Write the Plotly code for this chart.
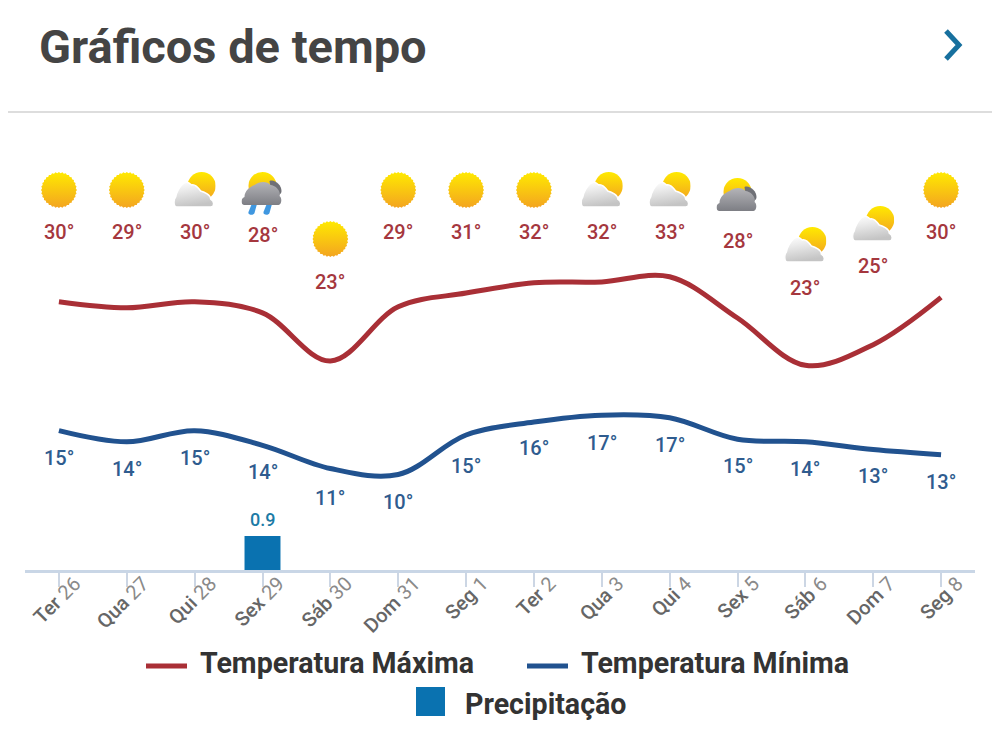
import base64
import math
import plotly.graph_objects as go

# --- DATA ---
dias = ["Ter", "Qua", "Qui", "Sex", "Sáb", "Dom", "Seg", "Ter", "Qua", "Qui", "Sex", "Sáb", "Dom", "Seg"]
datas = [26, 27, 28, 29, 30, 31, 1, 2, 3, 4, 5, 6, 7, 8]
temp_max = [29.8, 29.1, 29.8, 28.5, 22.9, 29.2, 30.8, 32.0, 32.1, 32.7, 27.9, 22.4, 24.8, 30.3]
temp_min = [14.8, 13.5, 14.8, 13.1, 10.4, 9.7, 14.3, 15.8, 16.6, 16.3, 13.8, 13.5, 12.6, 12.0]
rotulo_max = [30, 29, 30, 28, 23, 29, 31, 32, 32, 33, 28, 23, 25, 30]
rotulo_min = [15, 14, 15, 14, 11, 10, 15, 16, 17, 17, 15, 14, 13, 13]
precipitacao = [0, 0, 0, 0.9, 0, 0, 0, 0, 0, 0, 0, 0, 0, 0]
icones = ["sol", "sol", "nuvem", "chuva", "sol", "sol", "sol", "sol", "nuvem", "nuvem",
          "encoberto", "nuvem", "nuvem", "sol"]

# --- POSICOES (pixels da pagina) ---
W, H = 1000, 744
OFF = 8  # margem do body na pagina gerada
ESQ, DIR, TOPO, BASE = 25, 975, 148, 570
y_rot_max = [232, 232, 232, 235, 282, 232, 232, 232, 232, 232, 241, 288, 266, 232]
y_rot_min = [458, 469, 458, 472, 498, 502, 466, 448, 443, 445, 466, 469, 476, 482]
y_icone = [190, 190, 190, 194, 239, 190, 190, 190, 190, 190, 195, 245, 224, 190]

VERMELHO = "#a92f36"
AZUL = "#21528f"
AZUL_BARRA = "#0a72b0"
SLOT = (DIR - ESQ) / 14


def py(y):
    return (BASE - y) / (BASE - TOPO)


def px(x):
    return (x - ESQ) / (DIR - ESQ)


# --- ICONES em SVG ---
def svg_uri(svg):
    return "data:image/svg+xml;base64," + base64.b64encode(svg.encode()).decode()


GRADS = """<defs>
<linearGradient id="s" x1="0" y1="0" x2="0" y2="1"><stop offset="0" stop-color="#ffea00"/><stop offset="1" stop-color="#f3a421"/></linearGradient>
<linearGradient id="c" x1="0" y1="0" x2="0.25" y2="1"><stop offset="0" stop-color="#ffffff"/><stop offset="0.35" stop-color="#ececec"/><stop offset="1" stop-color="#c4c4c4"/></linearGradient>
<linearGradient id="d" x1="0" y1="0" x2="0" y2="1"><stop offset="0" stop-color="#b4b4b8"/><stop offset="1" stop-color="#7d7e84"/></linearGradient>
</defs>"""


def icone_sol():
    pts = []
    for k in range(64):
        r = 18 if k % 2 == 0 else 16.9
        a = 2 * math.pi * k / 64
        pts.append(f"{18 + r * math.cos(a):.2f},{18 + r * math.sin(a):.2f}")
    return svg_uri(f'<svg xmlns="http://www.w3.org/2000/svg" width="72" height="72" viewBox="0 0 36 36">{GRADS}'
                   f'<polygon points="{" ".join(pts)}" fill="url(#s)"/></svg>')


def icone_nuvem():
    nuvem = "M3,35 C0,35 -0.5,28 2,25 C3,20 6,15 9,12 C12,9 15,10 18,13 C21,12 24,15 27,19 C31,20 37,23 37,27 C41,29 41,35 37,35 Z"
    return svg_uri(f'<svg xmlns="http://www.w3.org/2000/svg" width="84" height="72" viewBox="0 0 42 36">{GRADS}'
                   f'<circle cx="28" cy="14" r="14" fill="url(#s)"/>'
                   f'<path d="{nuvem}" fill="url(#c)" stroke="#ffffff" stroke-width="1.5"/></svg>')


def icone_escuro(pingos):
    extra = ""
    if pingos:
        extra = ('<path d="M11,30 L16,30 L13,41 C12,44 6,43 7,40 Z" fill="#3f97e0"/>'
                 '<path d="M26,30 L31,30 L28,41 C27,44 21,43 22,40 Z" fill="#3f97e0"/>')
    corpo = "M3,33 C-1,33 -1,26 3,25 C3,19 8,15 13,13 C18,9 26,9 29,13 C34,13 40,20 38,24 C41,26 40,33 37,33 Z"
    alto = 44 if pingos else 34
    return svg_uri(f'<svg xmlns="http://www.w3.org/2000/svg" width="84" height="{alto * 2}" viewBox="0 0 42 {alto}">{GRADS}{extra}'
                   f'<circle cx="21" cy="14" r="14" fill="url(#s)"/>'
                   f'<path d="M28,9 C33,7 40,13 40,19 C40,24 33,24 30,22 Z" fill="#6f7076"/>'
                   f'<path d="{corpo}" fill="url(#d)"/></svg>')


ICONES = {
    "sol": (icone_sol(), 36, 36),
    "nuvem": (icone_nuvem(), 42, 36),
    "chuva": (icone_escuro(True), 42, 44),
    "encoberto": (icone_escuro(False), 42, 34),
}

x = list(range(len(dias)))
ticktext = [f'<span style="font-weight:500">{d}</span> <span style="color:#8a8a8a">{n}</span>' for d, n in zip(dias, datas)]

fig = go.Figure()

fig.add_trace(go.Bar(
    x=x, y=precipitacao, yaxis="y2", width=0.53, marker=dict(color=AZUL_BARRA, line_width=0),
    cliponaxis=False, showlegend=False, name="Precipitação",
))
fig.add_trace(go.Scatter(x=x, y=temp_max, mode="lines", name="Temperatura Máxima", showlegend=False,
                         line=dict(color=VERMELHO, width=5, shape="spline", smoothing=1)))
fig.add_trace(go.Scatter(x=x, y=temp_min, mode="lines", name="Temperatura Mínima", showlegend=False,
                         line=dict(color=AZUL, width=5, shape="spline", smoothing=1)))

# Rotulos das temperaturas
anot = []
for i in x:
    anot.append(dict(x=i, y=py(y_rot_max[i]), xref="x", yref="paper", text=f"{rotulo_max[i]}°", showarrow=False,
                     xanchor="center", yanchor="middle",
                     font=dict(family="Roboto", size=20, color="#a5373e", weight=500)))
    anot.append(dict(x=i, y=py(y_rot_min[i]), xref="x", yref="paper", text=f"{rotulo_min[i]}°", showarrow=False,
                     xanchor="center", yanchor="middle",
                     font=dict(family="Roboto", size=20, color="#2f5c8f", weight=500)))
    if precipitacao[i]:
        anot.append(dict(x=i, y=precipitacao[i], xref="x", yref="y2", text=str(precipitacao[i]), showarrow=False,
                         xanchor="center", yanchor="middle", yshift=17,
                         font=dict(family="Roboto", size=18, color="#1c7ba6", weight=500)))

# Titulo
anot.append(dict(x=px(37), y=py(47), xref="paper", yref="paper", text="Gráficos de tempo", showarrow=False,
                 xanchor="left", yanchor="middle", font=dict(family="Roboto", size=47, color="#444444", weight=700)))

# Legenda feita a mao (o marcador da legenda do plotly nao chega a esse tamanho)
for texto, tx, ty in [("Temperatura Máxima", 198, 663), ("Temperatura Mínima", 579, 663), ("Precipitação", 463, 704)]:
    anot.append(dict(x=px(tx), y=py(ty), xref="paper", yref="paper", text=texto, showarrow=False,
                     xanchor="left", yanchor="middle", font=dict(family="Roboto", size=28.6, color="#333333", weight=700)))

formas = [
    dict(type="line", x0=px(0), x1=px(1000), y0=py(112), y1=py(112), xref="paper", yref="paper", line=dict(color="#dddddd", width=2)),
    dict(type="line", x0=px(995), x1=px(1000), y0=py(150), y1=py(150), xref="paper", yref="paper", line=dict(color="#d5d5d5", width=1.5)),
    dict(type="line", x0=px(995), x1=px(1000), y0=py(286), y1=py(286), xref="paper", yref="paper", line=dict(color="#d5d5d5", width=1.5)),
    dict(type="path", xref="paper", yref="paper", line=dict(color="#17709e", width=5),
         path=f"M{px(946)},{py(31)} L{px(959)},{py(45)} L{px(946)},{py(59)}"),
    dict(type="line", x0=px(146), x1=px(187), y0=py(666), y1=py(666), xref="paper", yref="paper", line=dict(color=VERMELHO, width=5)),
    dict(type="line", x0=px(527), x1=px(568), y0=py(666), y1=py(666), xref="paper", yref="paper", line=dict(color=AZUL, width=5)),
    dict(type="rect", x0=px(416), x1=px(445), y0=py(687), y1=py(716), xref="paper", yref="paper", fillcolor=AZUL_BARRA, line_width=0),
]

imagens = []
for i in x:
    src, w, h = ICONES[icones[i]]
    imagens.append(dict(source=src, xref="x", yref="paper", x=i, y=py(y_icone[i]), sizex=w / SLOT, sizey=h / (BASE - TOPO),
                        xanchor="center", yanchor="middle", sizing="contain", layer="above"))

fig.update_layout(
    width=W - OFF, height=H - OFF,
    margin=dict(l=ESQ - OFF, r=W - DIR, t=TOPO - OFF, b=H - BASE),
    paper_bgcolor="white", plot_bgcolor="white",
    showlegend=False,
    font=dict(family="Roboto"),
    annotations=anot, shapes=formas, images=imagens,
    xaxis=dict(range=[-0.5, 13.5], tickmode="array", tickvals=x, ticktext=ticktext, tickangle=-45,
               ticks="outside", ticklen=14, tickwidth=2, tickcolor="#ccd6e4",
               showline=True, linecolor="#c9d6e6", linewidth=3, showgrid=False, zeroline=False,
               ticklabelshift=16, ticklabelstandoff=-23,
               tickfont=dict(family="Roboto", size=20, color="#666666")),
    yaxis=dict(range=[-1.4, 47.67], visible=False),
    yaxis2=dict(range=[0, 11.17], visible=False, overlaying="y"),
)

fig.write_html("out.html")
